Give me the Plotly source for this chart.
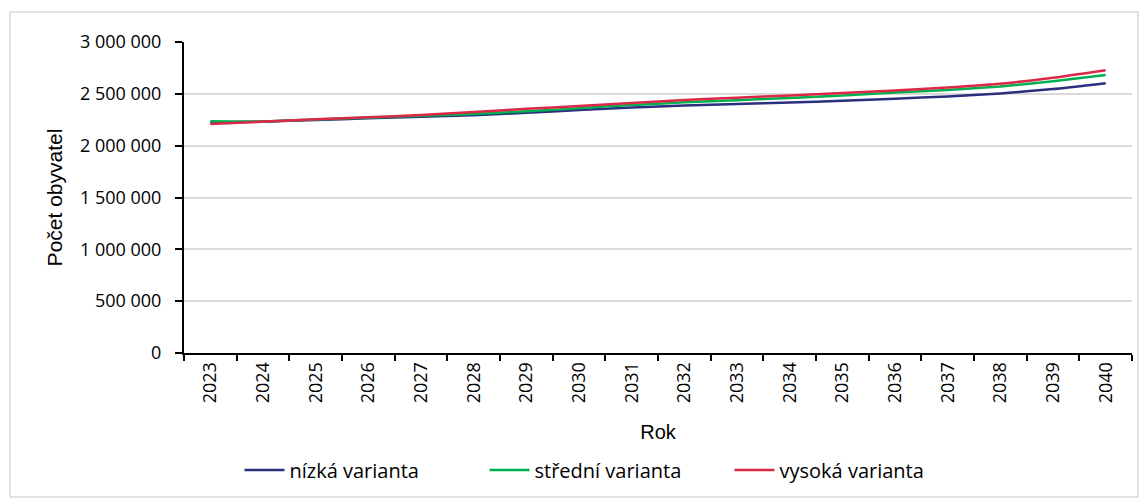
import plotly.graph_objects as go

years = [str(y) for y in range(2023, 2041)]

# thousands of inhabitants
low = [2222, 2231, 2248, 2264, 2279, 2293, 2317, 2343, 2368, 2387,
       2401, 2416, 2433, 2453, 2475, 2504, 2546, 2603]
mid = [2235, 2233, 2252, 2270, 2288, 2305, 2333, 2362, 2392, 2418,
       2439, 2460, 2484, 2512, 2537, 2571, 2622, 2681]
high = [2209, 2232, 2254, 2273, 2296, 2325, 2355, 2382, 2411, 2440,
        2463, 2484, 2508, 2533, 2562, 2598, 2655, 2728]

series = [
    ("nízká varianta", low, "#2b2f7e"),
    ("střední varianta", mid, "#00b050"),
    ("vysoká varianta", high, "#dc2846"),
]

fig = go.Figure()
for name, vals, color in series:
    fig.add_trace(go.Scatter(
        x=years, y=[v * 1000 for v in vals], name=name, mode="lines",
        line=dict(color=color, width=2.5, shape="spline", smoothing=0.5),
    ))

# the page puts the figure 8 px in from the top-left corner
W, H = 1140, 496
left, right, top, bottom = 176, 1124, 34, 345
pw, ph = right - left, bottom - top


def px_x(x):
    return (x - left) / pw


def px_y(y):
    return (bottom - y) / ph


tick_font = dict(family="Open Sans, sans-serif", size=18, color="#000")
title_font = dict(family="Liberation Sans, Arial, sans-serif", size=20, color="#000")

fig.update_layout(
    width=W, height=H,
    margin=dict(l=left, r=W - right, t=top, b=H - bottom),
    paper_bgcolor="white", plot_bgcolor="white",
    separators=", ",
    showlegend=True,
    legend=dict(
        orientation="h", x=px_x(599), y=px_y(462),
        xanchor="center", yanchor="middle",
        font=dict(tick_font, size=20), itemwidth=40, entrywidth=190,
    ),
    xaxis=dict(
        type="category", range=[-0.5, 17.5], tickangle=-90,
        tickson="boundaries",
        ticks="outside", ticklen=6, tickcolor="#000", tickwidth=1.5,
        showline=True, linecolor="#000", linewidth=2,
        showgrid=False, tickfont=tick_font,
        title=dict(text="Rok", font=title_font, standoff=23),
    ),
    yaxis=dict(
        range=[0, 3000000], dtick=500000, tickformat=",d",
        ticks="outside", ticklen=7, tickcolor="#000", tickwidth=1.5,
        showline=True, linecolor="#000", linewidth=2,
        gridcolor="#d9d9d9", gridwidth=1.5, zeroline=False,
        tickfont=tick_font, ticklabelstandoff=10,
        title=dict(text="Počet obyvatel",
                   font=dict(title_font, size=21), standoff=12),
    ),
    shapes=[dict(
        type="rect", xref="paper", yref="paper",
        x0=px_x(2), x1=px_x(1130), y0=px_y(489), y1=px_y(4),
        line=dict(color="#d9d9d9", width=1.5), layer="below",
    )],
)

fig.write_html("out.html")
